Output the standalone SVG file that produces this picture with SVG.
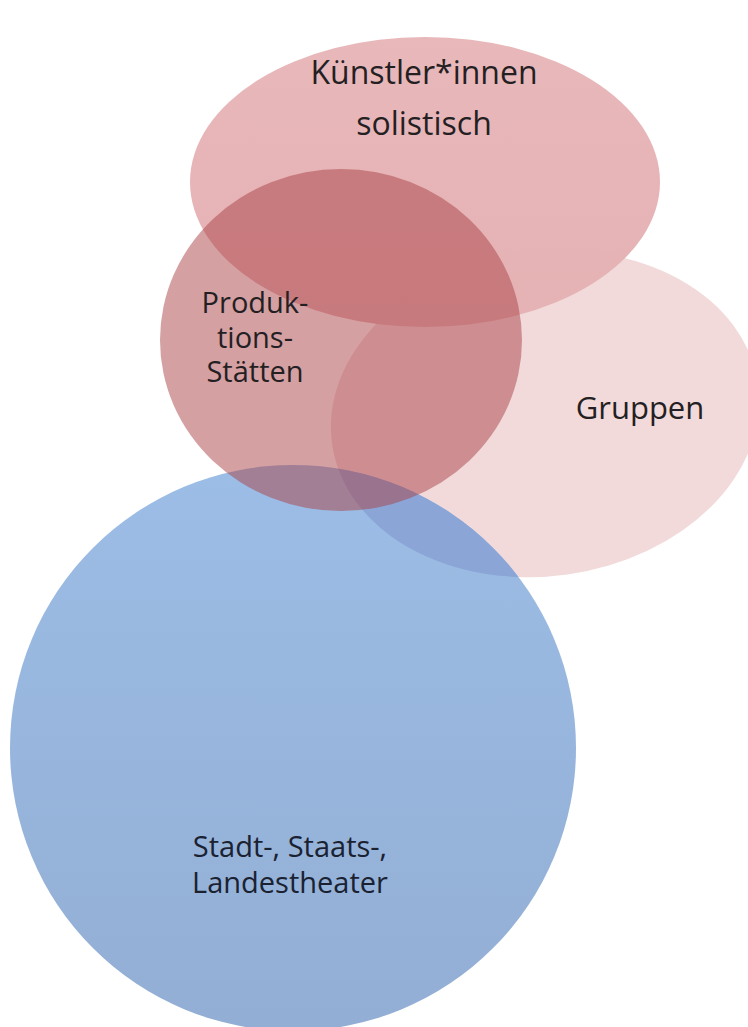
<svg xmlns="http://www.w3.org/2000/svg" width="748" height="1027" viewBox="0 0 748 1027">
  <style>
    .lbl { font-family: "Open Sans", "Noto Sans", "Liberation Sans", sans-serif; font-size: 29px; fill: #241f22; text-anchor: middle; }
    .big { font-size: 32px; }
    .lbl-blue { fill: #1a2232; }
  </style>
  <defs>
    <linearGradient id="gTop" x1="0" y1="0" x2="0" y2="1">
      <stop offset="0" stop-color="#d9888c"/>
      <stop offset="1" stop-color="#d47e82"/>
    </linearGradient>
    <linearGradient id="gBlue" x1="0" y1="0" x2="0" y2="1">
      <stop offset="0" stop-color="#9cbde6"/>
      <stop offset="1" stop-color="#93aed4"/>
    </linearGradient>
    <clipPath id="clipBlue">
      <circle cx="293" cy="748" r="283"/>
    </clipPath>
    <!-- slightly tilted Gruppen ellipse, reused for its blue overlap band -->
    <ellipse id="gruppenShape" cx="0" cy="0" rx="215" ry="162" transform="translate(545 414) rotate(-8)"/>
  </defs>
  <rect width="748" height="1027" fill="#ffffff"/>

  <g id="kuenstler">
    <ellipse cx="425" cy="182" rx="235" ry="145" fill="url(#gTop)" fill-opacity="0.6"/>
    <text class="lbl big" x="424" y="84">Künstler*innen</text>
    <text class="lbl big" x="424" y="135">solistisch</text>
  </g>

  <g id="gruppen">
    <use href="#gruppenShape" fill="#e5b3b5" fill-opacity="0.5"/>
    <text class="lbl" x="640" y="419" style="font-size:31px">Gruppen</text>
  </g>

  <g id="theater">
    <circle cx="293" cy="748" r="283" fill="url(#gBlue)"/>
    <!-- darker band where the blue circle covers the Gruppen ellipse -->
    <g clip-path="url(#clipBlue)">
      <use href="#gruppenShape" fill="#8aa5d6"/>
    </g>
    <text class="lbl lbl-blue" x="290" y="857">Stadt-, Staats-,</text>
    <text class="lbl lbl-blue" x="290" y="893">Landestheater</text>
  </g>

  <g id="produktion">
    <ellipse cx="341" cy="340" rx="181" ry="171" fill="#a94145" fill-opacity="0.5"/>
    <text class="lbl" x="255" y="313">Produk-</text>
    <text class="lbl" x="255" y="348">tions-</text>
    <text class="lbl" x="255" y="382">Stätten</text>
  </g>

  <g id="connectors"></g>
</svg>
